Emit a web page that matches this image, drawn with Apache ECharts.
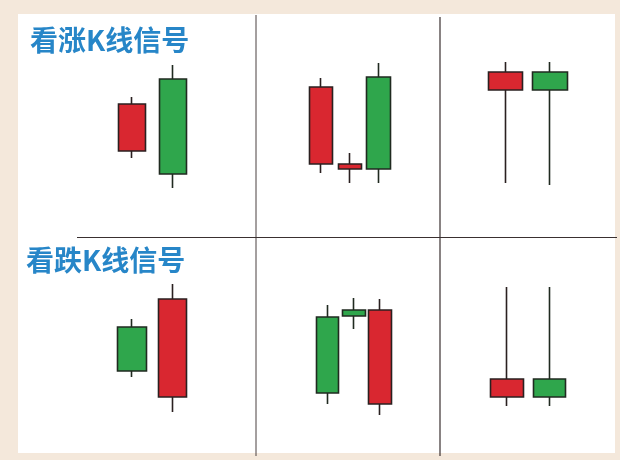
<!DOCTYPE html>
<html>
<head>
<meta charset="utf-8">
<script src="https://cdn.jsdelivr.net/npm/echarts@6/dist/echarts.min.js"></script>
<style>
  html, body { margin: 0; padding: 0; background: #f4e8db; }
  #main { width: 620px; height: 460px; }
</style>
</head>
<body>
<div id="main"></div>
<script>
// 每组K线: [开盘, 收盘, 最低, 最高]
var titles = ['看涨K线信号', '看跌K线信号'];
var up1 = [[44, 91, 37, 98], [116, 21, 7, 130]];
var up2 = [[31, 108, 22, 117], [26, 31, 12, 42], [118, 26, 12, 132]];
var up3 = [[105, 123, 12, 133], [123, 105, 10, 133]];
var down1 = [[98, 54, 48, 106], [28, 126, 13, 141]];
var down2 = [[108, 32, 21, 120], [115, 109, 96, 127], [21, 115, 10, 126]];
var down3 = [[28, 46, 19, 138], [46, 28, 19, 138]];

var groups = [up1, up2, up3, down1, down2, down3];
// 每个格子的位置 (left, width, barWidth)
var cells = [
  [111.5, 82, 28], [306.6, 86.3, 24], [483.3, 89, 35],
  [111.8, 81, 29], [314.4, 78.8, 23], [485.8, 85, 33]
];

var myChart = echarts.init(document.getElementById('main'));

var grid = [], xAxis = [], yAxis = [], series = [];
for (var i = 0; i < groups.length; i++) {
  var isTop = i < 3;
  grid.push({
    left: cells[i][0], width: cells[i][1],
    top: isTop ? 55 : 275, height: isTop ? 140 : 150
  });
  var cats = [];
  for (var j = 0; j < groups[i].length; j++) cats.push('k' + j);
  xAxis.push({ type: 'category', gridIndex: i, data: cats, show: false });
  yAxis.push({ type: 'value', gridIndex: i, min: 0, max: isTop ? 140 : 150, show: false });
  series.push({
    type: 'candlestick',
    xAxisIndex: i, yAxisIndex: i,
    barWidth: cells[i][2],
    data: groups[i],
    silent: true,
    itemStyle: {
      color: '#d92730', color0: '#2fa64c',
      borderColor: '#2a2020', borderColor0: '#202a20',
      borderWidth: 1.6
    }
  });
}

var titleStyle = { color: '#2786c8', fontSize: 28, fontWeight: 'bold', fontFamily: 'Noto Sans CJK SC' };

var option = {
  backgroundColor: '#f4e8db',
  animation: false,
  title: [
    { text: titles[0], left: 25, top: 21, textStyle: titleStyle },
    { text: titles[1], left: 21, top: 241, textStyle: titleStyle }
  ],
  graphic: [
    { type: 'rect', z: -10, shape: { x: 18, y: 14, width: 597, height: 439 }, style: { fill: '#ffffff' } },
    { type: 'line', z: -5, shape: { x1: 256, y1: 15, x2: 256, y2: 456 }, style: { stroke: '#4a4040', lineWidth: 1 } },
    { type: 'line', z: -5, shape: { x1: 440, y1: 17, x2: 440, y2: 456 }, style: { stroke: '#3a3030', lineWidth: 1.2 } },
    { type: 'line', z: -5, shape: { x1: 77, y1: 237.5, x2: 617, y2: 237.5 }, style: { stroke: '#3a3030', lineWidth: 1.2 } }
  ],
  grid: grid,
  xAxis: xAxis,
  yAxis: yAxis,
  series: series
};

myChart.setOption(option);
</script>
</body>
</html>
